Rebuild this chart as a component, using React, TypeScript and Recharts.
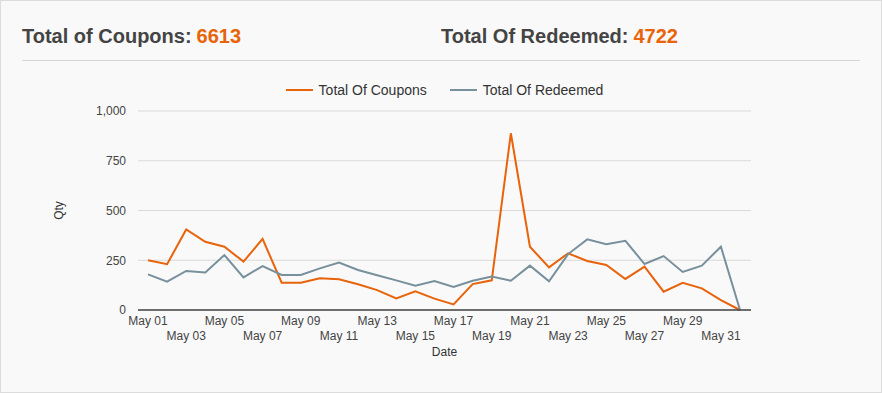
import React from 'react';
import { LineChart, Line, XAxis, YAxis, CartesianGrid, Legend, Label } from 'recharts';

const dates = [
  'May 01', 'May 02', 'May 03', 'May 04', 'May 05', 'May 06', 'May 07', 'May 08',
  'May 09', 'May 10', 'May 11', 'May 12', 'May 13', 'May 14', 'May 15', 'May 16',
  'May 17', 'May 18', 'May 19', 'May 20', 'May 21', 'May 22', 'May 23', 'May 24',
  'May 25', 'May 26', 'May 27', 'May 28', 'May 29', 'May 30', 'May 31', 'Jun 01',
];

const coupons = [
  250, 230, 405, 343, 318, 243, 357, 137,
  137, 159, 154, 129, 100, 58, 94, 57,
  28, 130, 149, 888, 318, 214, 285, 246,
  226, 156, 218, 92, 137, 109, 50, 0,
];

const redeemed = [
  179, 142, 196, 189, 276, 164, 221, 176,
  176, 209, 238, 201, 175, 149, 122, 146,
  116, 147, 168, 147, 223, 144, 281, 355,
  330, 348, 231, 271, 191, 223, 318, 0,
];

const yTicks = [0, 250, 500, 750, 1000];

const totalCoupons = 6613;
const totalRedeemed = 4722;

const ORANGE = '#e8630a';
const GREY = '#78909c';

const data = dates.map((d, i) => ({ date: d, coupons: coupons[i], redeemed: redeemed[i] }));

const font = 'Arial, "Liberation Sans", sans-serif';

function DateTick(props: any) {
  const { x, y, index, payload } = props;
  if (index % 2 === 1) return null;
  const row = index % 4 === 0 ? 11 : 26;
  return (
    <text x={x} y={y + row} dy="0.355em" textAnchor="middle" fontSize={12} fill="#444" fontFamily={font}>
      {payload.value}
    </text>
  );
}

function LegendBox() {
  const items = [
    { name: 'Total Of Coupons', color: ORANGE },
    { name: 'Total Of Redeemed', color: GREY },
  ];
  return (
    <div style={{ display: 'flex', justifyContent: 'center', alignItems: 'center', fontFamily: font, fontSize: 14, color: '#333' }}>
      {items.map((it, i) => (
        <div key={it.name} style={{ display: 'flex', alignItems: 'center', marginRight: i === 0 ? 23 : 0 }}>
          <svg width={27} height={4} style={{ marginRight: 6 }}>
            <line x1={0} y1={2} x2={27} y2={2} stroke={it.color} strokeWidth={2} />
          </svg>
          <span>{it.name}</span>
        </div>
      ))}
    </div>
  );
}

export default function App() {
  return (
    <div style={{ position: 'absolute', left: 0, top: 0, width: 882, height: 393, background: '#f9f9f9', boxShadow: 'inset 0 0 0 1px #dcdcdc', fontFamily: font }}>
      <div style={{ position: 'absolute', left: 22, top: 25, fontSize: 20, fontWeight: 'bold', color: '#444' }}>
        Total of Coupons:<span style={{ color: ORANGE, marginLeft: 5 }}>{totalCoupons}</span>
      </div>
      <div style={{ position: 'absolute', left: 441, top: 25, fontSize: 20, fontWeight: 'bold', color: '#444' }}>
        Total Of Redeemed:<span style={{ color: ORANGE, marginLeft: 5 }}>{totalRedeemed}</span>
      </div>
      <div style={{ position: 'absolute', left: 22, top: 60, width: 838, height: 1, background: '#d6d6d6' }} />
      <div style={{ position: 'absolute', left: 0, top: 70 }}>
        <LineChart width={882} height={300} data={data} margin={{ top: 41, right: 131, bottom: 10, left: 50 }}>
          <CartesianGrid horizontal vertical={false} stroke="#d9d9d9" />
          <Legend verticalAlign="middle" content={() => <LegendBox />} wrapperStyle={{ left: 138, top: 12, width: 613 }} />
          <XAxis
            dataKey="date"
            interval={0}
            tick={<DateTick />}
            tickLine={false}
            tickSize={0}
            tickMargin={0}
            height={50}
            padding={{ left: 10, right: 11 }}
            stroke="#444"
            strokeWidth={1.5}
          >
            <Label
              content={({ viewBox }: any) => (
                <text x={viewBox.x + viewBox.width / 2} y={viewBox.y + 42} dy="0.355em" textAnchor="middle" fontSize={12} fill="#333" fontFamily={font}>
                  Date
                </text>
              )}
            />
          </XAxis>
          <YAxis
            width={88}
            domain={[0, 1000]}
            ticks={yTicks}
            axisLine={false}
            tickLine={false}
            tickMargin={6}
            tickFormatter={(v: number) => v.toLocaleString('en-US')}
            tick={{ fontSize: 12, fill: '#444', fontFamily: font }}
          >
            <Label
              content={({ viewBox }: any) => (
                <text
                  x={viewBox.x + 9}
                  y={viewBox.y + viewBox.height / 2}
                  dy="0.355em"
                  textAnchor="middle"
                  fontSize={12}
                  fill="#333"
                  fontFamily={font}
                  transform={`rotate(-90 ${viewBox.x + 9} ${viewBox.y + viewBox.height / 2})`}
                >
                  Qty
                </text>
              )}
            />
          </YAxis>
          <Line type="linear" dataKey="coupons" name="Total Of Coupons" stroke={ORANGE} strokeWidth={2} dot={false} isAnimationActive={false} />
          <Line type="linear" dataKey="redeemed" name="Total Of Redeemed" stroke={GREY} strokeWidth={2} dot={false} isAnimationActive={false} />
        </LineChart>
      </div>
    </div>
  );
}
